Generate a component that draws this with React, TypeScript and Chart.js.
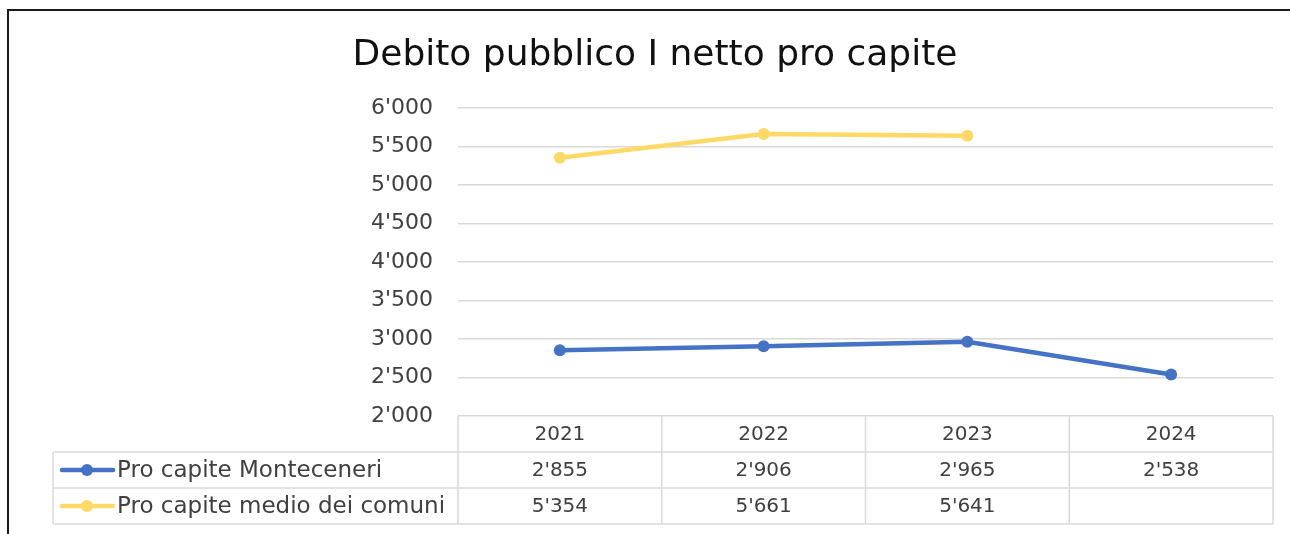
import React, { useEffect, useRef } from "react";
import { Chart, registerables } from "chart.js";

Chart.register(...registerables);

const TITLE = "Debito pubblico I netto pro capite";
const YEARS = ["2021", "2022", "2023", "2024"];
const MONTECENERI = [2855, 2906, 2965, 2538];
const MEDIO = [5354, 5661, 5641, null];
const SERIES_NAMES = ["Pro capite Monteceneri", "Pro capite medio dei comuni"];
const COLORS = ["#4472C4", "#FFD966"];
const Y_MIN = 2000;
const Y_MAX = 6000;
const Y_STEP = 500;

const fmt = (n: number | null) =>
  n === null || n === undefined ? "" : String(n).replace(/\B(?=(\d{3})+(?!\d))/g, "'");

const TEXT_FONT = "'DejaVu Sans', 'Noto Sans', sans-serif";

const tablePlugin = {
  id: "tablePlugin",
  afterDraw(chart: any) {
    const ctx = chart.ctx as CanvasRenderingContext2D;
    const area = chart.chartArea;
    const x = chart.scales.x;
    const rowH = 36;
    const top = area.bottom;
    const legendLeft = 53;
    const n = YEARS.length;
    const half = (x.getPixelForValue(1) - x.getPixelForValue(0)) / 2;
    const bounds: number[] = [];
    for (let i = 0; i < n; i++) bounds.push(x.getPixelForValue(i) - half);
    bounds.push(x.getPixelForValue(n - 1) + half);

    ctx.save();
    // title
    ctx.fillStyle = "#111111";
    ctx.font = `36px ${TEXT_FONT}`;
    ctx.textAlign = "center";
    ctx.textBaseline = "middle";
    ctx.fillText(TITLE, 655, 56);

    // border
    ctx.strokeStyle = "#1a1a1a";
    ctx.lineWidth = 2;
    ctx.beginPath();
    ctx.moveTo(8, 534);
    ctx.lineTo(8, 10);
    ctx.lineTo(1290, 10);
    ctx.stroke();

    // table grid
    ctx.strokeStyle = "#D9D9D9";
    ctx.lineWidth = 1.5;
    ctx.beginPath();
    for (const b of bounds) {
      ctx.moveTo(b, top);
      ctx.lineTo(b, top + rowH * 3);
    }
    for (let r = 1; r <= 3; r++) {
      ctx.moveTo(legendLeft, top + rowH * r);
      ctx.lineTo(bounds[n], top + rowH * r);
    }
    ctx.moveTo(legendLeft, top + rowH);
    ctx.lineTo(legendLeft, top + rowH * 3);
    ctx.stroke();

    // header
    ctx.fillStyle = "#404040";
    ctx.font = `20px ${TEXT_FONT}`;
    ctx.textAlign = "center";
    ctx.textBaseline = "middle";
    YEARS.forEach((yr, i) => {
      ctx.fillText(yr, x.getPixelForValue(i), top + rowH / 2 + 1);
    });

    const rows = [MONTECENERI, MEDIO];
    rows.forEach((vals, r) => {
      const cy = top + rowH * (r + 1) + rowH / 2 + 1;
      vals.forEach((v, i) => {
        ctx.font = `20px ${TEXT_FONT}`;
        ctx.textAlign = "center";
        ctx.fillStyle = "#404040";
        ctx.fillText(fmt(v), x.getPixelForValue(i), cy);
      });
      // legend key
      ctx.strokeStyle = COLORS[r];
      ctx.lineWidth = 4.5;
      ctx.lineCap = "round";
      ctx.beginPath();
      ctx.moveTo(62, cy - 1);
      ctx.lineTo(113, cy - 1);
      ctx.stroke();
      ctx.fillStyle = COLORS[r];
      ctx.beginPath();
      ctx.arc(87, cy - 1, 6, 0, Math.PI * 2);
      ctx.fill();
      ctx.fillStyle = "#404040";
      ctx.font = `23px ${TEXT_FONT}`;
      ctx.textAlign = "left";
      ctx.fillText(SERIES_NAMES[r], 117, cy);
    });
    ctx.restore();
  },
};

export default function App() {
  const ref = useRef<HTMLCanvasElement>(null);
  useEffect(() => {
    if (!ref.current) return;
    const chart = new Chart(ref.current, {
      type: "line",
      data: {
        labels: YEARS,
        datasets: [
          {
            label: SERIES_NAMES[0],
            data: MONTECENERI,
            borderColor: COLORS[0],
            backgroundColor: COLORS[0],
            borderWidth: 4.5,
            pointRadius: 6,
            pointBorderWidth: 0,
            pointHoverRadius: 6,
          },
          {
            label: SERIES_NAMES[1],
            data: MEDIO,
            borderColor: COLORS[1],
            backgroundColor: COLORS[1],
            borderWidth: 4.5,
            pointRadius: 6,
            pointBorderWidth: 0,
            pointHoverRadius: 6,
          },
        ],
      },
      options: {
        animation: false,
        responsive: false,
        maintainAspectRatio: false,
        layout: { padding: { left: 0, right: 17, top: 108, bottom: 118 } },
        plugins: {
          legend: { display: false },
          title: { display: false },
          tooltip: { enabled: false },
        },
        scales: {
          x: {
            display: false,
            offset: true,
          },
          y: {
            min: Y_MIN,
            max: Y_MAX,
            border: { display: false },
            grid: { color: "#D9D9D9", lineWidth: 1.5, drawTicks: false },
            ticks: {
              stepSize: Y_STEP,
              padding: 25,
              color: "#404040",
              font: { family: TEXT_FONT, size: 22 },
              callback: (v: any) => fmt(Number(v)),
            },
            afterFit: (s: any) => {
              s.width = 458;
            },
          },
        },
      },
      plugins: [tablePlugin],
    });
    return () => chart.destroy();
  }, []);
  return (
    <div style={{ position: "fixed", left: 0, top: 0, width: 1290, height: 534, background: "#fff" }}>
      <canvas ref={ref} width={1290} height={534} style={{ width: 1290, height: 534 }} />
    </div>
  );
}
